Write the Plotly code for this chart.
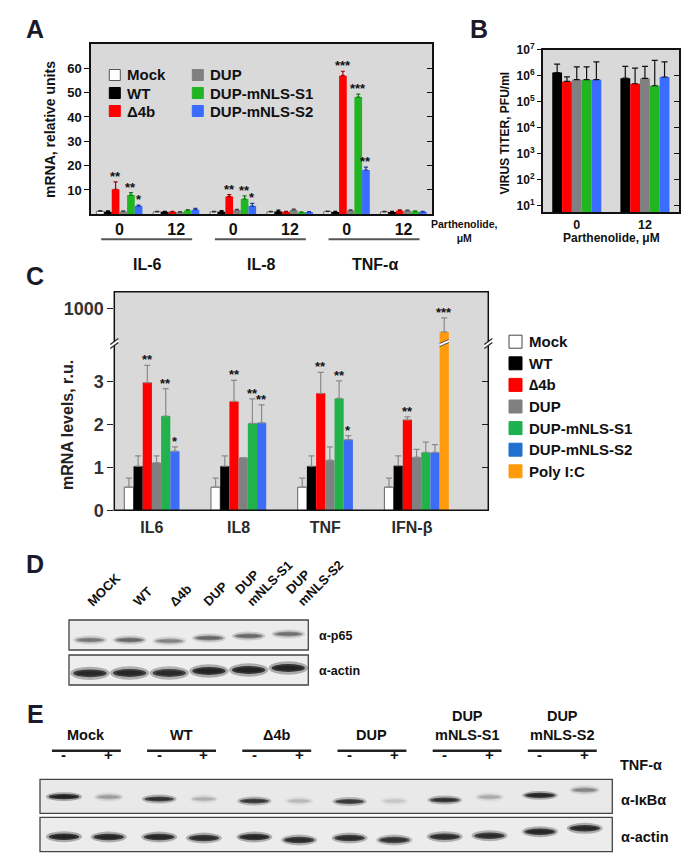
import plotly.graph_objects as go

W, H = 693, 861
FONT = "Liberation Sans, Arial, Helvetica, sans-serif"


def X(px):
    return px / W


def Y(py):
    return 1 - py / H


# ---------------- Panel A data ----------------
A_POS = [0, 1, 2, 3, 4, 5]
A_TICKS = ["0", "12", "0", "12", "0", "12"]
A_GENES = ["IL-6", "IL-8", "TNF-α"]
A_SERIES = ["Mock", "WT", "Δ4b", "DUP", "DUP-mNLS-S1", "DUP-mNLS-S2"]
A_MOCK = [1.2, 1.0, 1.0, 1.0, 1.1, 1.0]
A_WT = [1.0, 1.0, 1.0, 1.1, 0.9, 0.9]
A_D4B = [10.3, 1.0, 7.3, 1.0, 57.0, 1.5]
A_DUP = [1.2, 0.9, 1.8, 1.8, 1.6, 1.5]
A_S1 = [7.9, 1.6, 6.3, 0.8, 48.2, 1.2]
A_S2 = [3.4, 1.9, 3.4, 0.9, 18.2, 1.0]
A_MOCK_ERR = [0.3, 0.2, 0.2, 0.2, 0.2, 0.2]
A_WT_ERR = [0.4, 0.2, 0.5, 0.6, 0.3, 0.3]
A_D4B_ERR = [3.0, 0.2, 0.8, 0.2, 1.8, 0.3]
A_DUP_ERR = [0.2, 0.2, 0.2, 0.3, 0.2, 0.2]
A_S1_ERR = [1.0, 0.3, 1.3, 0.2, 1.2, 0.2]
A_S2_ERR = [0.4, 0.5, 1.1, 0.2, 1.2, 0.2]
A_D4B_SIG = ["**", "", "**", "", "***", ""]
A_S1_SIG = ["**", "", "**", "", "***", ""]
A_S2_SIG = ["*", "", "*", "", "**", ""]
A_YTICKS = [10, 20, 30, 40, 50, 60]

# ---------------- Panel B data ----------------
B_POS = [0, 1]
B_TICKS = ["0", "12"]
B_SERIES = ["WT", "Δ4b", "DUP", "DUP-mNLS-S1", "DUP-mNLS-S2"]
B_WT = [1.33e6, 8.0e5]
B_D4B = [6.0e5, 4.9e5]
B_DUP = [7.0e5, 7.9e5]
B_S1 = [7.0e5, 4.1e5]
B_S2 = [7.0e5, 8.9e5]
B_WT_ERR = [1.47e6, 1.5e6]
B_D4B_ERR = [3.0e5, 1.46e6]
B_DUP_ERR = [1.5e6, 1.51e6]
B_S1_ERR = [1.5e6, 3.49e6]
B_S2_ERR = [2.7e6, 2.51e6]
B_YTICKS = [1e1, 1e2, 1e3, 1e4, 1e5, 1e6, 1e7]
B_YTEXT = ["10<sup>1</sup>", "10<sup>2</sup>", "10<sup>3</sup>", "10<sup>4</sup>",
           "10<sup>5</sup>", "10<sup>6</sup>", "10<sup>7</sup>"]

# ---------------- Panel C data ----------------
C_POS = [0, 1, 2, 3]
C_GENES = ["IL6", "IL8", "TNF", "IFN-β"]
C_SERIES = ["Mock", "WT", "∆4b", "DUP", "DUP-mNLS-S1", "DUP-mNLS-S2", "Poly I:C"]
C_MOCK = [0.54, 0.54, 0.54, 0.54]
C_WT = [1.03, 1.03, 1.03, 1.04]
C_D4B = [2.98, 2.54, 2.73, 2.11]
C_DUP = [1.11, 1.23, 1.17, 1.24]
C_S1 = [2.20, 2.03, 2.61, 1.35]
C_S2 = [1.38, 2.04, 1.65, 1.35]
C_POLY = [None, None, None, 662]
C_MOCK_ERR = [0.21, 0.21, 0.21, 0.21]
C_WT_ERR = [0.24, 0.24, 0.24, 0.23]
C_D4B_ERR = [0.40, 0.49, 0.49, 0.07]
C_DUP_ERR = [0.16, 0.0, 0.31, 0.18]
C_S1_ERR = [0.64, 0.57, 0.41, 0.24]
C_S2_ERR = [0.10, 0.42, 0.09, 0.18]
C_POLY_ERR = [0, 0, 0, 206]
C_D4B_SIG = ["**", "**", "**", "**"]
C_S1_SIG = ["**", "**", "**", ""]
C_S2_SIG = ["*", "**", "*", ""]
C_POLY_SIG = ["", "", "", "***"]
C_YTICKS = [0, 1, 2, 3]
C_YTICKS_TOP = [1000]

# ---------------- Panel D data (blot) ----------------
D_LANES = ["MOCK", "WT", "Δ4b", "DUP", "DUP<br>mNLS-S1", "DUP<br>mNLS-S2"]
D_P65_INT = [0.42, 0.5, 0.36, 0.5, 0.5, 0.45]
D_P65_SHIFT = [20, 20, 21, 18, 16, 14]
D_ACT_INT = [0.95, 0.95, 0.92, 1.0, 1.0, 1.0]
D_ACT_SHIFT = [53.3, 53, 53, 51, 50, 48]
D_ROWS = ["α-p65", "α-actin"]

# ---------------- Panel E data (blot) ----------------
E_GROUPS = ["Mock", "WT", "Δ4b", "DUP", "DUP<br>mNLS-S1", "DUP<br>mNLS-S2"]
E_TNF = ["-", "+"]
E_IKB_INT = [1.0, 0.25, 0.85, 0.18, 0.8, 0.15, 0.8, 0.1, 0.85, 0.2, 0.95, 0.35]
E_IKB_SHIFT = [17.4, 17.7, 19.7, 19.7, 21.7, 21.7, 22.2, 21.7, 20.7, 17.7, 16.0, 10.7]
E_ACT_INT = [1.0, 0.95, 0.95, 0.9, 0.95, 0.9, 0.9, 0.85, 0.9, 0.9, 0.95, 0.95]
E_ACT_SHIFT = [57.4, 57.7, 57.7, 58.7, 57.7, 60.7, 58.7, 60.7, 57.4, 56.4, 52.4, 49.0]
E_ROWS = ["α-IκBα", "α-actin"]

# ---------------- styles ----------------
A_COLORS = ["#ffffff", "#000000", "#ff0000", "#808080", "#22b522", "#3a6cff"]
A_ERR_COLORS = ["#333333", "#000000", "#a00000", "#444444", "#137a13", "#1c3a9c"]
B_COLORS = ["#000000", "#ff0000", "#808080", "#22b522", "#3a6cff"]
C_COLORS = ["#ffffff", "#000000", "#ff0000", "#808080", "#22b24b", "#3d6df5", "#ff9a0a"]
C_LEG_COLORS = ["#ffffff", "#000000", "#ff0000", "#808080", "#1db04f", "#1f70d0", "#ff9a0a"]
D_LABEL_XSHIFT = [-8, -2, -6, -11, -19, -8]
BG = "#d9d9d9"
TXT = "#111111"

fig = go.Figure()
shapes = []
ann = []


def text_px(x, y, s, size, xanchor="center", yanchor="middle", color=TXT, angle=0, align="center"):
    ann.append(dict(xref="paper", yref="paper", x=X(x), y=Y(y), text=s, showarrow=False,
                    font=dict(size=size, family=FONT, color=color), xanchor=xanchor,
                    yanchor=yanchor, textangle=angle, align=align))


def rect_px(x0, y0, x1, y1, **kw):
    shapes.append(dict(type="rect", xref="paper", yref="paper", x0=X(x0), x1=X(x1),
                       y0=Y(y1), y1=Y(y0), **kw))


def line_px(x0, y0, x1, y1, color="#222", width=1.2):
    shapes.append(dict(type="line", xref="paper", yref="paper", x0=X(x0), y0=Y(y0),
                       x1=X(x1), y1=Y(y1), line=dict(color=color, width=width)))


def path_px(pts, fill):
    d = "M " + " L ".join(f"{X(x)},{Y(y)}" for x, y in pts) + " Z"
    shapes.append(dict(type="path", xref="paper", yref="paper", path=d, fillcolor=fill,
                       line=dict(width=0)))


def sig_ann(x, y, s, xref, yref, size=13):
    ann.append(dict(xref=xref, yref=yref, x=x, y=y, text=f"<b>{s}</b>", showarrow=False,
                    font=dict(size=size, family=FONT, color=TXT), xanchor="center",
                    yanchor="bottom", yshift=-4))


def band(xref, yref, xc, yc, hw, hh, inten):
    layers = [(1.18, 1.7, 0.30), (1.0, 1.0, 0.75), (0.8, 0.55, 0.5)]
    for sx, sy, a in layers:
        shapes.append(dict(type="circle", xref=xref, yref=yref,
                           x0=xc - hw * sx, x1=xc + hw * sx, y0=yc - hh * sy, y1=yc + hh * sy,
                           fillcolor=f"rgba(15,15,15,{a * inten:.3f})", line=dict(width=0)))


# ================= Panel A =================
gA = 0.19
wA = (1 - gA) / 6
A_VALS = [A_MOCK, A_WT, A_D4B, A_DUP, A_S1, A_S2]
A_ERRS = [A_MOCK_ERR, A_WT_ERR, A_D4B_ERR, A_DUP_ERR, A_S1_ERR, A_S2_ERR]
A_SIGS = [None, None, A_D4B_SIG, None, A_S1_SIG, A_S2_SIG]
for k in range(6):
    off = -(1 - gA) / 2 + k * wA
    fig.add_trace(go.Bar(
        x=A_POS, y=A_VALS[k], width=wA, offset=off, name=A_SERIES[k],
        marker=dict(color=A_COLORS[k], line=dict(color="#555555", width=0.8 if k == 0 else 0)),
        error_y=dict(type="data", symmetric=False, array=A_ERRS[k], arrayminus=[0] * 6,
                     color=A_ERR_COLORS[k], thickness=1.2, width=2),
        xaxis="x", yaxis="y", showlegend=False, hoverinfo="skip"))
    if A_SIGS[k]:
        for i, p in enumerate(A_POS):
            if A_SIGS[k][i]:
                sig_ann(p + off + wA / 2, A_VALS[k][i] + A_ERRS[k][i], A_SIGS[k][i], "x", "y")
fig.add_trace(go.Scatter(x=[None], y=[None], xaxis="x", yaxis="y8", showlegend=False, hoverinfo="skip"))

shapes.append(dict(type="rect", xref="x domain", yref="y domain", x0=0, x1=1, y0=0, y1=1,
                   fillcolor=BG, line=dict(width=0), layer="below"))
for j, g in enumerate(A_GENES):
    shapes.append(dict(type="line", xref="x", yref="paper", x0=2 * j - 0.32, x1=2 * j + 1.28,
                       y0=Y(239.3), y1=Y(239.3), line=dict(color="#555555", width=2)))
    ann.append(dict(xref="x", yref="paper", x=2 * j + 0.5, y=Y(253.5), text=f"<b>{g}</b>",
                    showarrow=False, font=dict(size=16, family=FONT, color=TXT)))
text_px(464, 230.5, "<b>Parthenolide,<br>μM</b>", 10.5)
text_px(50, 129, "<b>mRNA, relative units</b>", 14, angle=-90)
for k, nm in enumerate(A_SERIES):
    col, row = k // 3, k % 3
    sx = 109.3 if col == 0 else 192.3
    yc = 75 + row * 18
    rect_px(sx, yc - 5.5, sx + 11, yc + 5.5, fillcolor=A_COLORS[k],
            line=dict(color="#555555" if k == 0 else A_COLORS[k], width=1))
    text_px(sx + 15.5, yc, f"<b>{nm}</b>", 15, xanchor="left")

# ================= Panel B =================
gB = 0.28
wB = (1 - gB) / 5
B_VALS = [B_WT, B_D4B, B_DUP, B_S1, B_S2]
B_ERRS = [B_WT_ERR, B_D4B_ERR, B_DUP_ERR, B_S1_ERR, B_S2_ERR]
for k in range(5):
    off = -(1 - gB) / 2 + k * wB
    fig.add_trace(go.Bar(
        x=B_POS, y=B_VALS[k], width=wB, offset=off, name=B_SERIES[k],
        marker=dict(color=B_COLORS[k], line=dict(width=0)),
        error_y=dict(type="data", symmetric=False, array=B_ERRS[k], arrayminus=[0, 0],
                     color="#111111", thickness=1.2, width=3),
        xaxis="x2", yaxis="y2", showlegend=False, hoverinfo="skip"))
fig.add_trace(go.Scatter(x=[None], y=[None], xaxis="x2", yaxis="y9", showlegend=False, hoverinfo="skip"))
shapes.append(dict(type="rect", xref="x2 domain", yref="y2 domain", x0=0, x1=1, y0=0, y1=1,
                   fillcolor=BG, line=dict(width=0), layer="below"))
text_px(505, 133.5, "<b>VIRUS TITER, PFU/ml</b>", 12, angle=-90)
text_px(611, 238, "<b>Parthenolide, μM</b>", 12)

# ================= Panel C =================
gC = 0.257
wC = (1 - gC) / 7
C_VALS = [C_MOCK, C_WT, C_D4B, C_DUP, C_S1, C_S2, C_POLY]
C_ERRS = [C_MOCK_ERR, C_WT_ERR, C_D4B_ERR, C_DUP_ERR, C_S1_ERR, C_S2_ERR, C_POLY_ERR]
C_SIGS = [None, None, C_D4B_SIG, None, C_S1_SIG, C_S2_SIG, C_POLY_SIG]
for k in range(7):
    off = -(1 - gC) / 2 + k * wC
    fig.add_trace(go.Bar(
        x=C_POS, y=C_VALS[k], width=wC, offset=off, name=C_SERIES[k],
        marker=dict(color=C_COLORS[k], line=dict(color="#444444", width=0.8 if k == 0 else 0)),
        error_y=dict(type="data", symmetric=False, array=C_ERRS[k], arrayminus=[0] * 4,
                     color="#8a8a8a", thickness=1.2, width=3),
        xaxis="x3", yaxis="y3", showlegend=False, hoverinfo="skip"))
    if k == 6:
        fig.add_trace(go.Bar(
            x=C_POS, y=C_VALS[k], width=wC, offset=off, name=C_SERIES[k],
            marker=dict(color=C_COLORS[k], line=dict(width=0)),
            error_y=dict(type="data", symmetric=False, array=C_ERRS[k], arrayminus=[0] * 4,
                         color="#8a8a8a", thickness=1.2, width=3),
            xaxis="x3", yaxis="y4", showlegend=False, hoverinfo="skip"))
    if C_SIGS[k]:
        for i, p in enumerate(C_POS):
            if C_SIGS[k][i]:
                yref = "y4" if k == 6 else "y3"
                sig_ann(p + off + wC / 2, C_VALS[k][i] + C_ERRS[k][i], C_SIGS[k][i], "x3", yref)
fig.add_trace(go.Scatter(x=[None], y=[None], xaxis="x3", yaxis="y5", showlegend=False, hoverinfo="skip"))

rect_px(114.3, 291.7, 488.3, 510.3, fillcolor=BG, line=dict(width=0), layer="below")
rect_px(114.3, 291.7, 488.3, 510.3, fillcolor="rgba(0,0,0,0)", line=dict(color="#111", width=1.5))
for xc in (114.3, 488.3):
    path_px([(xc - 4, 344.5), (xc + 4, 338.5), (xc + 4, 342.5), (xc - 4, 348.5)], "white")
    line_px(xc - 4, 344.5, xc + 4, 338.5)
    line_px(xc - 4, 348.5, xc + 4, 342.5)
offP = -(1 - gC) / 2 + 6 * wC
bx0, bx1 = 3 + offP, 3 + offP + wC
shapes.append(dict(type="path", xref="x3", yref="paper",
                   path=f"M {bx0},{Y(343.5)} L {bx1},{Y(339.5)} L {bx1},{Y(342.5)} L {bx0},{Y(346.5)} Z",
                   fillcolor="white", line=dict(width=0)))
for y0, y1 in ((343.5, 339.5), (346.5, 342.5)):
    shapes.append(dict(type="line", xref="x3", yref="paper", x0=bx0, x1=bx1, y0=Y(y0), y1=Y(y1),
                       line=dict(color="#555", width=1)))
text_px(68, 425, "<b>mRNA levels, r.u.</b>", 16, angle=-90, color="#222")
for k, nm in enumerate(C_SERIES):
    yc = 341.7 + k * 21.6
    rect_px(509, yc - 6.5, 522, yc + 6.5, fillcolor=C_LEG_COLORS[k],
            line=dict(color="#444444" if k == 0 else C_LEG_COLORS[k], width=1))
    text_px(527, yc, f"<b>{nm}</b>", 15, xanchor="left")

# ================= Panel D (blot) =================
rect_px(69, 620, 308.3, 650, fillcolor="#ececec", line=dict(color="#444", width=1.3))
rect_px(69, 655, 308.3, 685, fillcolor="#eeeeee", line=dict(color="#444", width=1.3))
D_X = list(range(len(D_LANES)))
fig.add_trace(go.Scatter(x=D_X, y=D_P65_SHIFT, mode="markers", marker=dict(opacity=0),
                         xaxis="x6", yaxis="y6", showlegend=False, hoverinfo="skip"))
for i in D_X:
    band("x6", "y6", i, D_P65_SHIFT[i], 0.36, 2.6, D_P65_INT[i])
    band("x6", "y6", i, D_ACT_SHIFT[i], 0.42, 3.9, D_ACT_INT[i])
    lab = D_LANES[i]
    ann.append(dict(xref="x6", yref="paper", x=i, y=Y(612), text=f"<b>{lab}</b>", showarrow=False,
                    font=dict(size=13, family=FONT, color=TXT), xanchor="left", yanchor="bottom",
                    textangle=-45, align="left", xshift=D_LABEL_XSHIFT[i]))
text_px(316.7, 636, f"<b>{D_ROWS[0]}</b>", 12.5, xanchor="left")
text_px(316.7, 671, f"<b>{D_ROWS[1]}</b>", 12.5, xanchor="left")

# ================= Panel E (blot) =================
rect_px(40, 779.3, 612.3, 813.3, fillcolor="#e9e9e9", line=dict(color="#444", width=1.3))
rect_px(40, 817.3, 612.3, 851.7, fillcolor="#ececec", line=dict(color="#444", width=1.3))
PAIR = 0.47
E_X = [g + PAIR * t for g in range(len(E_GROUPS)) for t in range(2)]
fig.add_trace(go.Scatter(x=E_X, y=E_IKB_SHIFT, mode="markers", marker=dict(opacity=0),
                         xaxis="x7", yaxis="y7", showlegend=False, hoverinfo="skip"))
for i, xl in enumerate(E_X):
    I1 = E_IKB_INT[i]
    band("x7", "y7", xl, E_IKB_SHIFT[i], 0.16 * (0.75 + 0.25 * I1), 2.6, I1)
    band("x7", "y7", xl, E_ACT_SHIFT[i], 0.16, 3.2, E_ACT_INT[i])
    ann.append(dict(xref="x7", yref="paper", x=xl, y=Y(765), text=f"<b>{E_TNF[i % 2]}</b>",
                    showarrow=False, font=dict(size=15, family=FONT, color=TXT)))
for g, name in enumerate(E_GROUPS):
    xc = g + PAIR / 2
    ann.append(dict(xref="x7", yref="paper", x=xc, y=Y(745), text=f"<b>{name}</b>", showarrow=False,
                    font=dict(size=14.5, family=FONT, color=TXT), yanchor="bottom", align="center"))
    shapes.append(dict(type="line", xref="x7", yref="paper", x0=xc - 0.362, x1=xc + 0.362,
                       y0=Y(750.7), y1=Y(750.7), line=dict(color="#222", width=2.5)))
text_px(618, 765, "<b>TNF-α</b>", 14.5, xanchor="left")
text_px(619, 800, f"<b>{E_ROWS[0]}</b>", 14.5, xanchor="left")
text_px(619, 836.7, f"<b>{E_ROWS[1]}</b>", 14.5, xanchor="left")

for L, (lx, ly) in {"A": (35, 29), "B": (479, 29), "C": (35, 276), "D": (34.5, 563.5), "E": (35.5, 714)}.items():
    text_px(lx, ly, f"<b>{L}</b>", 25, color="#1a1a2a")

# ================= Layout =================
def tick_bold(s, c="#111"):
    return dict(size=s, family=FONT, color=c, weight="bold")


frame = dict(showline=True, mirror=True, linecolor="#111", linewidth=1.5, showgrid=False,
             zeroline=False, automargin=False)
plain = dict(showgrid=False, zeroline=False, showline=False, automargin=False)

fig.update_layout(
    template="none",
    width=W, height=H, margin=dict(l=0, r=0, t=0, b=0, pad=0, autoexpand=False),
    paper_bgcolor="white", plot_bgcolor="rgba(0,0,0,0)", barmode="overlay", showlegend=False,
    font=dict(family=FONT, color=TXT),
    xaxis=dict(domain=[X(91), X(432)], range=[-0.5, 5.5], anchor="y", tickvals=A_POS,
               ticktext=A_TICKS, ticks="", tickfont=tick_bold(16), ticklabelstandoff=0, **frame),
    yaxis=dict(domain=[Y(214.3), Y(44)], range=[0, 70], anchor="x", tickvals=A_YTICKS,
               ticks="outside", ticklen=5, tickwidth=1.2, tickcolor="#111", tickfont=tick_bold(13), **frame),
    yaxis8=dict(overlaying="y", side="right", anchor="x", range=[0, 70], tickvals=A_YTICKS,
                ticks="inside", ticklen=5, tickwidth=1.2, tickcolor="#111", showticklabels=False, **plain),
    xaxis2=dict(domain=[X(542.7), X(679)], range=[-0.5, 1.5], anchor="y2", tickvals=B_POS,
                ticktext=B_TICKS, ticks="", tickfont=tick_bold(12.5), ticklabelstandoff=0, **frame),
    yaxis2=dict(domain=[Y(212), Y(49.7)], type="log", range=[0.757, 7], anchor="x2",
                tickvals=B_YTICKS, ticktext=B_YTEXT, ticks="outside", ticklen=4, tickwidth=1.2,
                tickcolor="#111", tickfont=tick_bold(12), **frame),
    yaxis9=dict(overlaying="y2", side="right", anchor="x2", type="log", range=[0.757, 7],
                tickvals=B_YTICKS, ticks="inside", ticklen=5, tickwidth=1.2, tickcolor="#111",
                showticklabels=False, **plain),
    xaxis3=dict(domain=[X(114.3), X(488.3)], range=[-0.487, 3.827], anchor="y3",
                tickvals=[p - wC / 2 for p in C_POS], ticktext=C_GENES, ticks="",
                tickfont=tick_bold(16, "#2a2a2a"), ticklabelstandoff=6, **plain),
    yaxis3=dict(domain=[Y(510.3), Y(343)], range=[0, 3.903], anchor="x3", tickvals=C_YTICKS,
                ticks="outside", ticklen=6, tickwidth=1.2, tickcolor="#222",
                tickfont=tick_bold(18, "#333"), **plain),
    yaxis4=dict(domain=[Y(343), Y(291.7)], range=[500, 1250], anchor="x3", tickvals=C_YTICKS_TOP,
                ticks="outside", ticklen=6, tickwidth=1.2, tickcolor="#222",
                tickfont=tick_bold(18, "#333"), **plain),
    yaxis5=dict(overlaying="y3", side="right", anchor="x3", range=[0, 3.903], tickvals=C_YTICKS[1:],
                ticks="inside", ticklen=6, tickwidth=1.2, tickcolor="#222", showticklabels=False, **plain),
    xaxis6=dict(domain=[X(69), X(308.3)], range=[-0.53, 5.505], anchor="y6", visible=False),
    yaxis6=dict(domain=[Y(685), Y(620)], range=[65, 0], anchor="x6", visible=False),
    xaxis7=dict(domain=[X(40), X(612.3)], range=[-0.252, 5.76], anchor="y7", visible=False),
    yaxis7=dict(domain=[Y(851.7), Y(779.3)], range=[72.4, 0], anchor="x7", visible=False),
    shapes=shapes, annotations=ann,
)

fig.write_html("out.html", config={"displayModeBar": False},
               post_script="document.body.style.margin='0';document.body.style.padding='0';"
                           "document.documentElement.style.overflow='hidden';")
